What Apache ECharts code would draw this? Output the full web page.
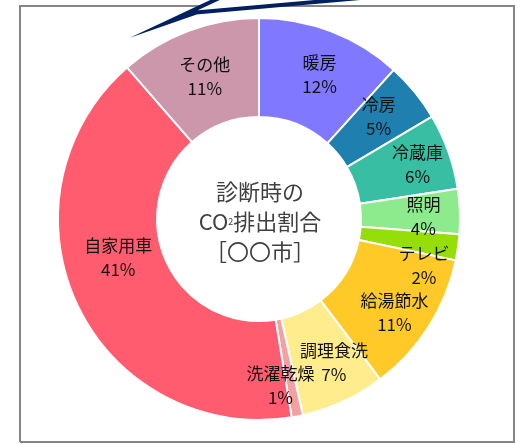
<!DOCTYPE html>
<html><head><meta charset="utf-8">
<script src="https://cdn.jsdelivr.net/npm/echarts@6/dist/echarts.min.js"></script>
<style>html,body{margin:0;padding:0;background:#fff}#c{width:526px;height:444px}</style>
</head><body><div id="c"></div>
<script>
var categories = ['暖房','冷房','冷蔵庫','照明','テレビ','給湯節水','調理食洗','洗濯乾燥','自家用車','その他'];
var values = [11.7, 4.8, 6.1, 3.6, 2.1, 11.4, 6.8, 0.9, 41.2, 11.4];
var colors = ['#8079FF','#1F80B0','#38BFA3','#8DEB8D','#96DE0A','#FFCA28','#FFEC8C','#F5A0A0','#FF5C70','#CC96AB'];
var labelNudge = [[5,0],[0,-5],[13,-3],[10,3],[12,25],[5,11],[10,3],[-8,15],[-1,-27],[0,2]];
var centerLines = ['診断時の','CO{s|2}排出割合','［〇〇市］'];

var FONT = '"Noto Sans CJK JP", "Noto Sans", sans-serif';
var chart = echarts.init(document.getElementById('c'), null, {renderer:'canvas'});
var data = categories.map(function(n,i){ return {name:n, value:values[i], itemStyle:{color:colors[i]}}; });
chart.setOption({
  animation:false,
  graphic:[
    {type:'polyline', z:1, shape:{points:[[20,442],[20,6],[514,6],[514,442],[20,442]]}, style:{fill:null, stroke:'#858585', lineWidth:2}},
    {type:'polygon', z:10, shape:{points:[[232,-8],[166,23],[196,12.5],[360,-2]]}, style:{fill:'#fff', stroke:'#002060', lineWidth:4, lineJoin:'miter', miterLimit:20}},
    {type:'text', x:260, y:222, z:20, style:{
      text: centerLines.join('\n'), font:'22px '+FONT, fill:'#404040', align:'center', verticalAlign:'middle', lineHeight:30,
      rich:{s:{fontSize:9, fill:'#404040', fontFamily:FONT, lineHeight:30, verticalAlign:'middle'}}
    }}
  ],
  series:[{
    type:'pie', center:[259,219], radius:[102,201], startAngle:90, clockwise:true,
    avoidLabelOverlap:false,
    itemStyle:{borderColor:'#fff', borderWidth:2},
    label:{show:true, position:'inside', fontFamily:FONT, fontSize:17, lineHeight:24, color:'#111',
      formatter:function(p){ return p.name + '\n' + Math.round(p.percent) + '%'; }},
    labelLine:{show:false},
    labelLayout:function(p){ var d = labelNudge[p.dataIndex]; return {dx:d[0], dy:d[1]}; },
    emphasis:{disabled:true},
    data:data
  }]
});
</script></body></html>
